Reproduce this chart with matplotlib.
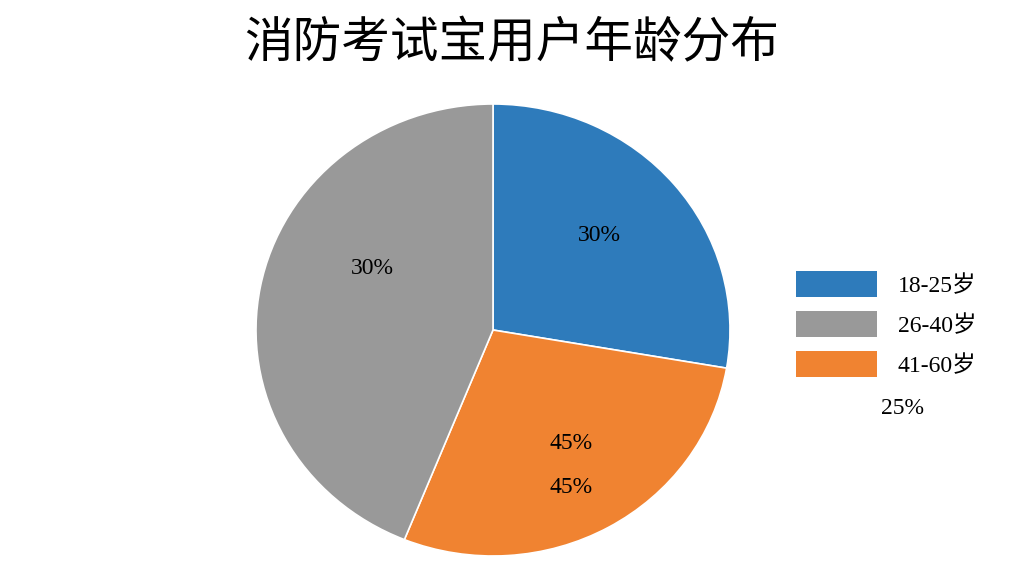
import matplotlib
matplotlib.use("Agg")
import matplotlib.pyplot as plt
from matplotlib.patches import Patch

categories = ["18-25岁", "41-60岁", "26-40岁"]
shares = [27.7, 28.4, 43.9]
colors = ["#2e7bbb", "#f08331", "#999999"]
shown_labels = ["30%", "45%\n\n45%", "30%"]
legend_order = [0, 2, 1]
stray_label = "25%"

plt.rcParams['font.family'] = ['Noto Sans CJK SC', 'DejaVu Sans']
fig = plt.figure(figsize=(10.24, 5.76), dpi=100)
fig.patch.set_facecolor("white")
ax = fig.add_axes([(493-237)/1024, (246-226)/576, 474/1024, 452/576])
wedges, _ = ax.pie(shares, colors=colors, startangle=90, counterclock=False,
                   wedgeprops=dict(edgecolor="white", linewidth=1.2), frame=False)
ax.set_aspect("auto")
ax.set_xlim(-1, 1); ax.set_ylim(-1, 1)
pos = [(0.45, 0.42), (0.33, -0.60), (-0.51, 0.27)]
for (x, y), t in zip(pos, shown_labels):
    ax.text(x, y, t, ha="center", va="center", fontsize=17,
            family=["Liberation Serif", "Noto Sans CJK SC"], linespacing=1.05)

fig.text(0.5, 0.925, "消防考试宝用户年龄分布", ha="center", va="center",
         fontsize=35, fontweight="medium")
handles = [Patch(facecolor=colors[i], edgecolor="none") for i in legend_order]
leg = fig.legend(handles, [categories[i] for i in legend_order],
                 loc="upper left", bbox_to_anchor=(775/1024, 1-250/576),
                 frameon=False, handlelength=3.4, handleheight=1.3,
                 labelspacing=0.6, handletextpad=0.9,
                 prop={"family": ["Liberation Serif", "Noto Sans CJK SC"], "size": 17})
fig.text(903/1024, 1-408/576, stray_label, ha="center", va="center", fontsize=17,
         family=["Liberation Serif"])
fig.savefig("out.png", dpi=100)
